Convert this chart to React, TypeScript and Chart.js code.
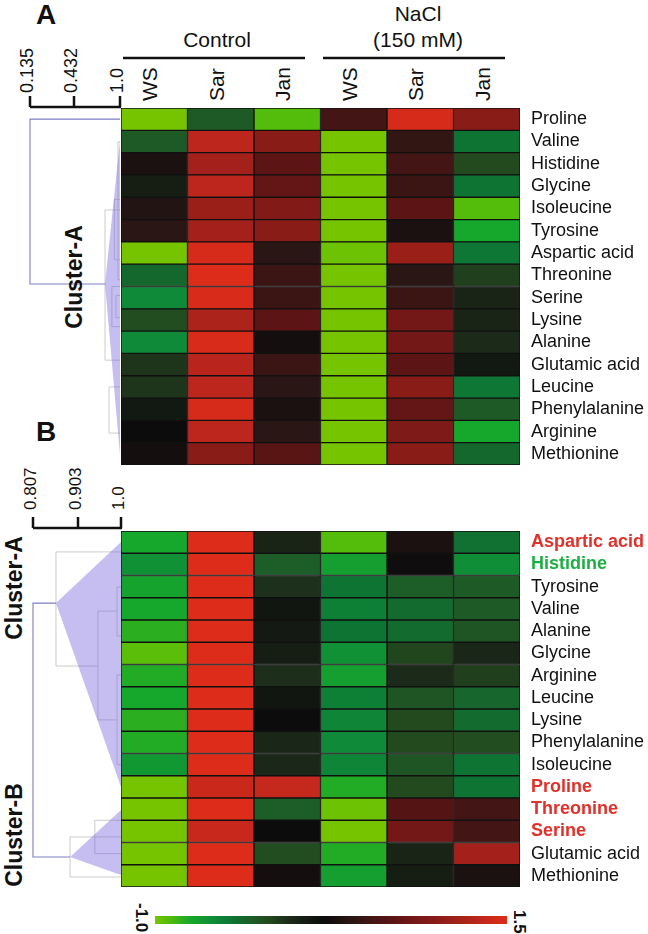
import React, { useEffect, useRef } from "react";
import { Chart, registerables } from "chart.js";
Chart.register(...registerables);

const FONT = '"Liberation Sans", Arial, Helvetica, sans-serif';

// ---------------- data ----------------
const columnLabels = ["WS", "Sar", "Jan", "WS", "Sar", "Jan"];
const groupControl = "Control";
const groupSaltLine1 = "NaCl";
const groupSaltLine2 = "(150 mM)";

const rowsA = ["Proline", "Valine", "Histidine", "Glycine", "Isoleucine", "Tyrosine", "Aspartic acid", "Threonine", "Serine", "Lysine", "Alanine", "Glutamic acid", "Leucine", "Phenylalanine", "Arginine", "Methionine"];
const aControlWS = [-1.0, -0.3, 0.3, 0.05, 0.35, 0.4, -1.0, -0.38, -0.58, -0.22, -0.58, -0.1, -0.1, 0.1, 0.2, 0.25];
const aControlSar = [-0.3, 1.3, 1.15, 1.3, 1.1, 1.15, 1.45, 1.5, 1.47, 1.2, 1.47, 1.28, 1.3, 1.45, 1.3, 1.0];
const aControlJan = [-0.9, 1.0, 0.7, 0.75, 0.95, 1.0, 0.4, 0.5, 0.5, 0.7, 0.25, 0.5, 0.4, 0.3, 0.4, 0.68];
const aSaltWS = [0.55, -1.0, -1.0, -1.0, -1.0, -1.0, -0.97, -1.0, -1.0, -1.0, -1.0, -1.0, -1.0, -1.0, -1.0, -1.0];
const aSaltSar = [1.45, 0.45, 0.55, 0.5, 0.7, 0.3, 1.1, 0.4, 0.5, 0.85, 0.85, 0.7, 1.0, 0.75, 0.92, 1.0];
const aSaltJan = [1.0, -0.45, -0.2, -0.45, -0.9, -0.75, -0.47, -0.15, 0.0, 0.0, -0.05, 0.1, -0.47, -0.3, -0.75, -0.38];

const rowsB = ["Aspartic acid", "Histidine", "Tyrosine", "Valine", "Alanine", "Glycine", "Arginine", "Leucine", "Lysine", "Phenylalanine", "Isoleucine", "Proline", "Threonine", "Serine", "Glutamic acid", "Methionine"];
// highlight: 1 = up (red), -1 = down (green), 0 = none
const rowsBHighlight = [1, -1, 0, 0, 0, 0, 0, 0, 0, 0, 0, 1, 1, 1, 0, 0];
const bControlWS = [-0.75, -0.62, -0.72, -0.75, -0.8, -0.92, -0.78, -0.75, -0.8, -0.78, -0.66, -1.0, -1.0, -1.0, -1.0, -1.0];
const bControlSar = [1.5, 1.5, 1.5, 1.5, 1.5, 1.5, 1.5, 1.5, 1.5, 1.5, 1.5, 1.38, 1.5, 1.37, 1.5, 1.5];
const bControlJan = [0.0, -0.32, -0.08, 0.12, 0.08, 0.05, -0.07, 0.12, 0.2, -0.02, -0.03, 1.35, -0.32, 0.2, -0.22, 0.25];
const bSaltWS = [-0.9, -0.7, -0.45, -0.52, -0.45, -0.62, -0.7, -0.52, -0.55, -0.58, -0.55, -0.78, -0.97, -1.0, -0.78, -0.7];
const bSaltSar = [0.3, 0.22, -0.32, -0.4, -0.4, -0.18, -0.05, -0.27, -0.2, -0.2, -0.27, -0.2, 0.65, 0.85, 0.0, 0.05];
const bSaltJan = [-0.43, -0.6, -0.3, -0.3, -0.27, -0.02, -0.15, -0.37, -0.4, -0.22, -0.45, -0.45, 0.55, 0.55, 1.15, 0.3];

const scaleTicksA = [0.135, 0.432, 1.0];
const scaleTickLabelsA = ["0.135", "0.432", "1.0"];
const scaleTicksB = [0.807, 0.903, 1.0];
const scaleTickLabelsB = ["0.807", "0.903", "1.0"];
const colorbarMin = -1.0;
const colorbarMax = 1.5;

// dendrogram structure in (distance, row) units
const dendroAMain: [number, number][] = [[1.0, 0.5], [0.135, 0.5], [0.135, 7.89], [0.815, 7.89]];
const dendroATriangles: [number, number][][] = [[[0.815, 7.89], [1.0, 1.43], [1.0, 15.55]]];
const dendroABrackets: [number, number, number, number, number][] = [
  [0.815, 4.57, 11.3, 1.0, 1.0],
  [0.864, 12.5, 14.57, 1.0, 1.0],
  [0.975, 1.52, 7.7, 1.0, 1.0],
  [0.93, 4.1, 6.8, 1.0, 1.0],
  [0.9, 8.0, 9.8, 1.0, 1.0],
  [0.95, 8.4, 9.4, 1.0, 1.0],
];
const dendroBMain: [number, number][] = [[0.856, 3.24], [0.807, 3.24], [0.807, 14.65], [0.886, 14.65]];
const dendroBTriangles: [number, number][][] = [
  [[0.856, 3.24], [1.0, 0.49], [1.0, 11.5]],
  [[0.886, 14.65], [1.0, 12.54], [1.0, 15.46]],
];
const dendroBBrackets: [number, number, number, number, number][] = [
  [0.856, 0.94, 6.07, 1.0, 0.948],
  [0.948, 3.6, 8.49, 0.991, 0.991],
  [0.991, 2.52, 4.72, 1.0, 1.0],
  [0.991, 6.47, 10.5, 1.0, 1.0],
  [0.886, 13.75, 15.55, 1.0, 1.0],
  [0.941, 13.0, 14.5, 1.0, 1.0],
];

// ---------------- styles / layout ----------------
const COLOR_STOPS: [number, string][] = [
  [-1.0, "#76c400"], [-0.9, "#54bc0a"], [-0.75, "#16a82c"], [-0.58, "#0e8a38"],
  [-0.45, "#0e7434"], [-0.3, "#1e5a26"], [-0.2, "#224a1e"], [-0.05, "#1c2a1a"],
  [0.2, "#0c0c0c"], [0.4, "#2a1614"], [0.7, "#5c1414"], [1.0, "#8a1c18"],
  [1.3, "#bc261c"], [1.5, "#de2c1a"],
];
const HEAT_LEFT = 121;
const HEAT_W = 399;
const LABEL_W = 127;
const A_TOP = 108;
const A_H = 357;
const B_TOP = 531;
const B_H = 356;
const TICK_X_A = [30, 74, 120];
const TICK_X_B = [33, 78, 121];
const PURPLE = "#7e7cc6";
const GRAY = "#cbcbcb";

function hexRgb(h: string) {
  const n = parseInt(h.slice(1), 16);
  return [(n >> 16) & 255, (n >> 8) & 255, n & 255];
}
function colorFor(v: number): string {
  const s = COLOR_STOPS;
  if (v <= s[0][0]) return s[0][1];
  if (v >= s[s.length - 1][0]) return s[s.length - 1][1];
  for (let i = 0; i < s.length - 1; i++) {
    const [v0, c0] = s[i];
    const [v1, c1] = s[i + 1];
    if (v >= v0 && v <= v1) {
      const t = (v - v0) / (v1 - v0);
      const a = hexRgb(c0);
      const b = hexRgb(c1);
      const m = a.map((x, k) => Math.round(x + (b[k] - x) * t));
      return `rgb(${m[0]},${m[1]},${m[2]})`;
    }
  }
  return "#000";
}

function Heatmap(props: {
  rows: string[];
  cols: number[][];
  top: number;
  height: number;
  labelColor: (i: number) => string;
  labelBold: (i: number) => boolean;
}) {
  const ref = useRef<HTMLCanvasElement>(null);
  useEffect(() => {
    if (!ref.current) return;
    const datasets = props.cols.map((vals, ci) => ({
      label: columnLabels[ci],
      data: vals.map(() => 1),
      backgroundColor: vals.map(colorFor),
      borderColor: "#111111",
      borderWidth: 1,
      borderSkipped: false as const,
      barPercentage: 1,
      categoryPercentage: 1,
      stack: "cells",
    }));
    const chart = new Chart(ref.current, {
      type: "bar",
      data: { labels: props.rows, datasets },
      options: {
        indexAxis: "y",
        animation: false,
        responsive: false,
        maintainAspectRatio: false,
        layout: { padding: 0 },
        plugins: { legend: { display: false }, tooltip: { enabled: false } },
        scales: {
          x: { type: "linear", min: 0, max: 6, stacked: true, display: false },
          y: {
            type: "category",
            position: "right",
            stacked: true,
            grid: { display: false },
            border: { display: false },
            ticks: {
              autoSkip: false,
              padding: 3,
              color: (c: any) => props.labelColor(c.index),
              font: (c: any) => ({ family: FONT, size: 18, lineHeight: 1, weight: props.labelBold(c.index) ? "bold" : "normal" }),
            },
            afterFit: (s: any) => {
              s.width = LABEL_W;
              s.paddingTop = 0;
              s.paddingBottom = 0;
              s.paddingLeft = 0;
              s.paddingRight = 0;
            },
          },
        },
      } as any,
    });
    return () => chart.destroy();
  }, []);
  const w = HEAT_W + LABEL_W;
  return (
    <canvas
      ref={ref}
      width={w}
      height={props.height}
      style={{ position: "absolute", left: HEAT_LEFT, top: props.top, width: w, height: props.height }}
    />
  );
}

function interp(ticks: number[], xs: number[], d: number) {
  for (let i = 0; i < ticks.length - 1; i++) {
    if (d <= ticks[i + 1] || i === ticks.length - 2) {
      const t = (d - ticks[i]) / (ticks[i + 1] - ticks[i]);
      return xs[i] + t * (xs[i + 1] - xs[i]);
    }
  }
  return xs[xs.length - 1];
}

function Dendro(props: {
  top: number;
  rowH: number;
  ticks: number[];
  tickX: number[];
  main: [number, number][];
  tris: [number, number][][];
  brackets: [number, number, number, number, number][];
}) {
  const dx = (d: number) => interp(props.ticks, props.tickX, d);
  const ry = (r: number) => props.top + r * props.rowH;
  return (
    <g>
      {props.brackets.map((b, i) => (
        <path
          key={"b" + i}
          d={`M${dx(b[3])},${ry(b[1])} H${dx(b[0])} V${ry(b[2])} H${dx(b[4])}`}
          fill="none"
          stroke={GRAY}
          strokeWidth={1}
        />
      ))}
      {props.tris.map((t, i) => (
        <polygon key={"t" + i} points={t.map((p) => `${dx(p[0])},${ry(p[1])}`).join(" ")} fill="rgba(120,100,220,0.42)" />
      ))}
      <polyline points={props.main.map((p) => `${dx(p[0])},${ry(p[1])}`).join(" ")} fill="none" stroke={PURPLE} strokeWidth={1.1} />
    </g>
  );
}

function Up(props: { x: number; y: number; size: number; bold?: boolean; children: React.ReactNode }) {
  return (
    <div
      style={{
        position: "absolute",
        left: props.x,
        top: props.y,
        transformOrigin: "0 0",
        transform: "rotate(-90deg) translateY(-50%)",
        fontSize: props.size,
        lineHeight: 1,
        whiteSpace: "nowrap",
        fontWeight: props.bold ? "bold" : "normal",
        color: "#111",
      }}
    >
      {props.children}
    </div>
  );
}
function Down(props: { x: number; y: number; size: number; bold?: boolean; children: React.ReactNode }) {
  return (
    <div
      style={{
        position: "absolute",
        left: props.x,
        top: props.y,
        transformOrigin: "0 0",
        transform: "rotate(90deg) translateY(-50%)",
        fontSize: props.size,
        lineHeight: 1,
        whiteSpace: "nowrap",
        fontWeight: props.bold ? "bold" : "normal",
        color: "#111",
      }}
    >
      {props.children}
    </div>
  );
}
function CenterUp(props: { x: number; y: number; size: number; children: React.ReactNode }) {
  return (
    <div
      style={{
        position: "absolute",
        left: props.x,
        top: props.y,
        transform: "translate(-50%, -50%) rotate(-90deg)",
        fontSize: props.size,
        lineHeight: 1,
        whiteSpace: "nowrap",
        fontWeight: "bold",
        color: "#111",
      }}
    >
      {props.children}
    </div>
  );
}
function HText(props: { x: number; y: number; size: number; bold?: boolean; children: React.ReactNode }) {
  return (
    <div
      style={{
        position: "absolute",
        left: props.x,
        top: props.y,
        transform: "translateX(-50%)",
        fontSize: props.size,
        lineHeight: 1,
        whiteSpace: "nowrap",
        fontWeight: props.bold ? "bold" : "normal",
        color: "#111",
      }}
    >
      {props.children}
    </div>
  );
}

export default function App() {
  const colW = HEAT_W / 6;
  const gradient =
    "linear-gradient(to right, " +
    COLOR_STOPS.map(([v, c]) => `${c} ${(((v - colorbarMin) / (colorbarMax - colorbarMin)) * 100).toFixed(2)}%`).join(", ") +
    ")";
  return (
    <div
      style={{
        position: "fixed",
        left: 0,
        top: 0,
        width: 648,
        height: 934,
        background: "#fff",
        overflow: "hidden",
        fontFamily: FONT,
      }}
    >
      <svg width={648} height={934} style={{ position: "absolute", left: 0, top: 0 }}>
        <Dendro top={A_TOP} rowH={A_H / 16} ticks={scaleTicksA} tickX={TICK_X_A} main={dendroAMain} tris={dendroATriangles} brackets={dendroABrackets} />
        <Dendro top={B_TOP} rowH={B_H / 16} ticks={scaleTicksB} tickX={TICK_X_B} main={dendroBMain} tris={dendroBTriangles} brackets={dendroBBrackets} />
        {/* scale brackets */}
        <path
          d={`M${TICK_X_A[0]},107 H${TICK_X_A[2] + 1} ${TICK_X_A.map((x) => `M${x},107 V96`).join(" ")}`}
          stroke="#111"
          strokeWidth={2.5}
          fill="none"
        />
        <path
          d={`M${TICK_X_B[0]},528 H${TICK_X_B[2] + 1} ${TICK_X_B.map((x) => `M${x},528 V517`).join(" ")}`}
          stroke="#111"
          strokeWidth={2.5}
          fill="none"
        />
        {/* group lines */}
        <path d="M123,58 H305 M323,58 H505" stroke="#111" strokeWidth={2.5} />
      </svg>

      <Heatmap
        rows={rowsA}
        cols={[aControlWS, aControlSar, aControlJan, aSaltWS, aSaltSar, aSaltJan]}
        top={A_TOP}
        height={A_H}
        labelColor={() => "#111"}
        labelBold={() => false}
      />
      <Heatmap
        rows={rowsB}
        cols={[bControlWS, bControlSar, bControlJan, bSaltWS, bSaltSar, bSaltJan]}
        top={B_TOP}
        height={B_H}
        labelColor={(i) => (rowsBHighlight[i] > 0 ? "#e2302a" : rowsBHighlight[i] < 0 ? "#1fae45" : "#111")}
        labelBold={(i) => rowsBHighlight[i] !== 0}
      />

      {/* panel letters */}
      <div style={{ position: "absolute", left: 36, top: 1, fontSize: 28, fontWeight: "bold", lineHeight: 1, color: "#111" }}>A</div>
      <div style={{ position: "absolute", left: 36, top: 418, fontSize: 28, fontWeight: "bold", lineHeight: 1, color: "#111" }}>B</div>

      {/* group headers */}
      <HText x={217} y={29} size={21}>{groupControl}</HText>
      <HText x={418} y={3} size={21}>{groupSaltLine1}</HText>
      <HText x={418} y={29} size={21}>{groupSaltLine2}</HText>

      {/* column labels */}
      {columnLabels.map((c, i) => (
        <Up key={"c" + i} x={HEAT_LEFT + colW * (i + 0.5) - 5} y={101} size={21}>
          {c}
        </Up>
      ))}

      {/* scale labels */}
      {scaleTickLabelsA.map((t, i) => (
        <Up key={"sa" + i} x={TICK_X_A[i] - 3} y={93} size={18}>
          {t}
        </Up>
      ))}
      {scaleTickLabelsB.map((t, i) => (
        <Up key={"sb" + i} x={TICK_X_B[i] - 3} y={510} size={17}>
          {t}
        </Up>
      ))}

      {/* cluster labels */}
      <CenterUp x={74} y={277} size={23}>Cluster-A</CenterUp>
      <CenterUp x={14} y={588} size={23}>Cluster-A</CenterUp>
      <CenterUp x={14} y={835} size={23}>Cluster-B</CenterUp>

      {/* color bar */}
      <div style={{ position: "absolute", left: 155, top: 916, width: 352, height: 8, background: gradient }} />
      <Down x={141} y={903} size={17} bold>
        {colorbarMin.toFixed(1)}
      </Down>
      <Down x={519} y={909.5} size={17} bold>
        {colorbarMax.toFixed(1)}
      </Down>
    </div>
  );
}
